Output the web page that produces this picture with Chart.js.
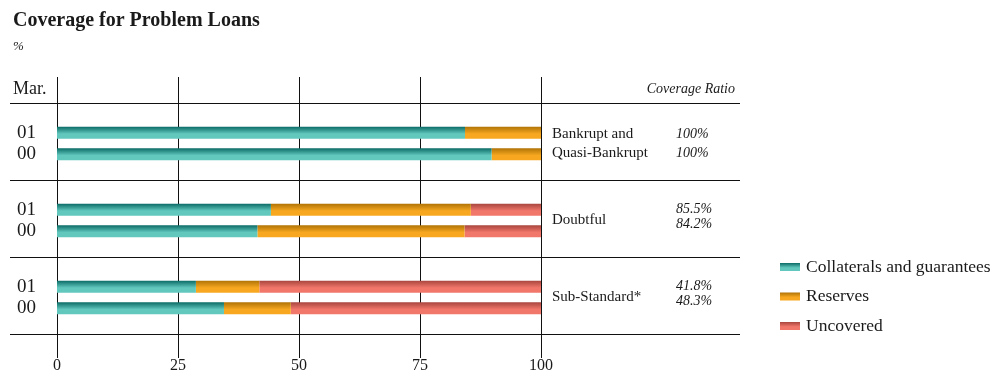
<!DOCTYPE html>
<html>
<head>
<meta charset="utf-8">
<script src="https://cdn.jsdelivr.net/npm/chart.js@4.4.0/dist/chart.umd.min.js"></script>
<style>
  html, body { margin: 0; padding: 0; background: #fff; }
  #wrap { width: 992px; height: 375px; position: relative; }
</style>
</head>
<body>
<div id="wrap"><canvas id="chartCoverage"></canvas></div>
<script>
// values (% of problem loans)
const categories = [['Bankrupt and', 'Quasi-Bankrupt'], ['Doubtful'], ['Sub-Standard*']];
const years = ['01', '00'];
const collateral01 = [84.3, 44.2, 28.7];
const reserves01 = [15.7, 41.3, 13.1];
const uncovered01 = [0, 14.5, 58.2];
const collateral00 = [89.8, 41.4, 34.5];
const reserves00 = [10.2, 42.8, 13.8];
const uncovered00 = [0, 15.8, 51.7];
const coverage01 = ['100%', '85.5%', '41.8%'];
const coverage00 = ['100%', '84.2%', '48.3%'];
const seriesNames = ['Collaterals and guarantees', 'Reserves', 'Uncovered'];
const xTicks = [0, 25, 50, 75, 100];

const SERIF = '"Liberation Serif", "DejaVu Serif", serif';
const INK = '#1a1a1a';
const shades = [
  ['#0b6b66', '#62c8be'],
  ['#b07306', '#f7a820'],
  ['#a8463e', '#f2776b'],
];

Chart.defaults.font.family = SERIF;

function fillFor(stops, top, height, ctx) {
  const g = ctx.createLinearGradient(0, top, 0, top + height);
  g.addColorStop(0, stops[0]);
  g.addColorStop(0.6, stops[1]);
  g.addColorStop(1, stops[1]);
  return g;
}

function barFill(stops) {
  return (c) => {
    const el = c.element;
    if (!el || !Number.isFinite(el.y) || !el.height) return stops[1];
    return fillFor(stops, el.y - el.height / 2, el.height, c.chart.ctx);
  };
}

function series(label, data, stack, idx) {
  return {
    label,
    data,
    stack,
    backgroundColor: barFill(shades[idx]),
    borderWidth: 0,
    categoryPercentage: 0.56,
    barPercentage: 0.56,
  };
}

function text(ctx, str, x, y, font, align) {
  ctx.font = font;
  ctx.textAlign = align || 'left';
  ctx.textBaseline = 'middle';
  ctx.fillText(str, x, y);
}

const frame = {
  id: 'frame',
  beforeDatasetsDraw(chart) {
    const { ctx, scales: { x, y } } = chart;
    ctx.save();
    ctx.strokeStyle = '#111';
    ctx.lineWidth = 1;
    ctx.beginPath();
    xTicks.forEach((v) => {
      const px = Math.round(x.getPixelForValue(v)) + 0.5;
      ctx.moveTo(px, 77);
      ctx.lineTo(px, 358);
    });
    for (let i = 0; i <= categories.length; i++) {
      const py = Math.round(y.getPixelForValue(i - 0.5)) - 2 + 0.5;
      ctx.moveTo(10, py);
      ctx.lineTo(740, py);
    }
    ctx.stroke();
    ctx.restore();
  },
  afterDraw(chart) {
    const { ctx, scales: { x, y } } = chart;
    ctx.save();
    ctx.fillStyle = INK;

    text(ctx, 'Coverage for Problem Loans', 13, 21, 'bold 20px ' + SERIF);
    text(ctx, '%', 13, 47, 'italic 13px ' + SERIF);
    text(ctx, 'Mar.', 13, 89, '18px ' + SERIF);
    text(ctx, 'Coverage Ratio', 735, 89, 'italic 14px ' + SERIF, 'right');

    // year labels next to each bar row
    const metaA = chart.getDatasetMeta(0);
    const metaB = chart.getDatasetMeta(3);
    categories.forEach((lines, i) => {
      text(ctx, years[0], 17, metaA.data[i].y, '19px ' + SERIF);
      text(ctx, years[1], 17, metaB.data[i].y, '19px ' + SERIF);

      const cy = y.getPixelForValue(i);
      const lh = 19;
      const y0 = cy - (lines.length - 1) * lh / 2;
      lines.forEach((ln, k) => text(ctx, ln, 552, y0 + k * lh, '15px ' + SERIF));

      const r0 = lines.length > 1 ? y0 : cy - 11;
      const r1 = lines.length > 1 ? y0 + lh : cy + 4;
      text(ctx, coverage01[i], 676, r0, 'italic 14px ' + SERIF);
      text(ctx, coverage00[i], 676, r1, 'italic 14px ' + SERIF);
    });

    xTicks.forEach((v) => text(ctx, String(v), x.getPixelForValue(v), 366, '16px ' + SERIF, 'center'));

    // legend
    seriesNames.forEach((name, i) => {
      const cy = 267 + i * 29.5;
      ctx.fillStyle = fillFor(shades[i], cy - 4, 8, ctx);
      ctx.fillRect(780, cy - 4, 20, 8);
      ctx.fillStyle = INK;
      text(ctx, name, 806, cy, '17.5px ' + SERIF);
    });
    ctx.restore();
  },
};

const chart = new Chart(document.getElementById('chartCoverage'), {
  type: 'bar',
  data: {
    labels: categories,
    datasets: [
      series(seriesNames[0], collateral01, years[0], 0),
      series(seriesNames[1], reserves01, years[0], 1),
      series(seriesNames[2], uncovered01, years[0], 2),
      series(seriesNames[0], collateral00, years[1], 0),
      series(seriesNames[1], reserves00, years[1], 1),
      series(seriesNames[2], uncovered00, years[1], 2),
    ],
  },
  options: {
    indexAxis: 'y',
    responsive: true,
    maintainAspectRatio: false,
    animation: false,
    events: [],
    layout: { padding: { left: 57, right: 451, top: 105, bottom: 39 } },
    plugins: { legend: { display: false }, tooltip: { enabled: false } },
    scales: {
      x: { type: 'linear', min: 0, max: 100, stacked: true, display: false },
      y: { type: 'category', stacked: true, display: false },
    },
  },
  plugins: [frame],
});
// second pass so the gradients pick up the laid-out bar positions
chart.update('none');
</script>
</body>
</html>
